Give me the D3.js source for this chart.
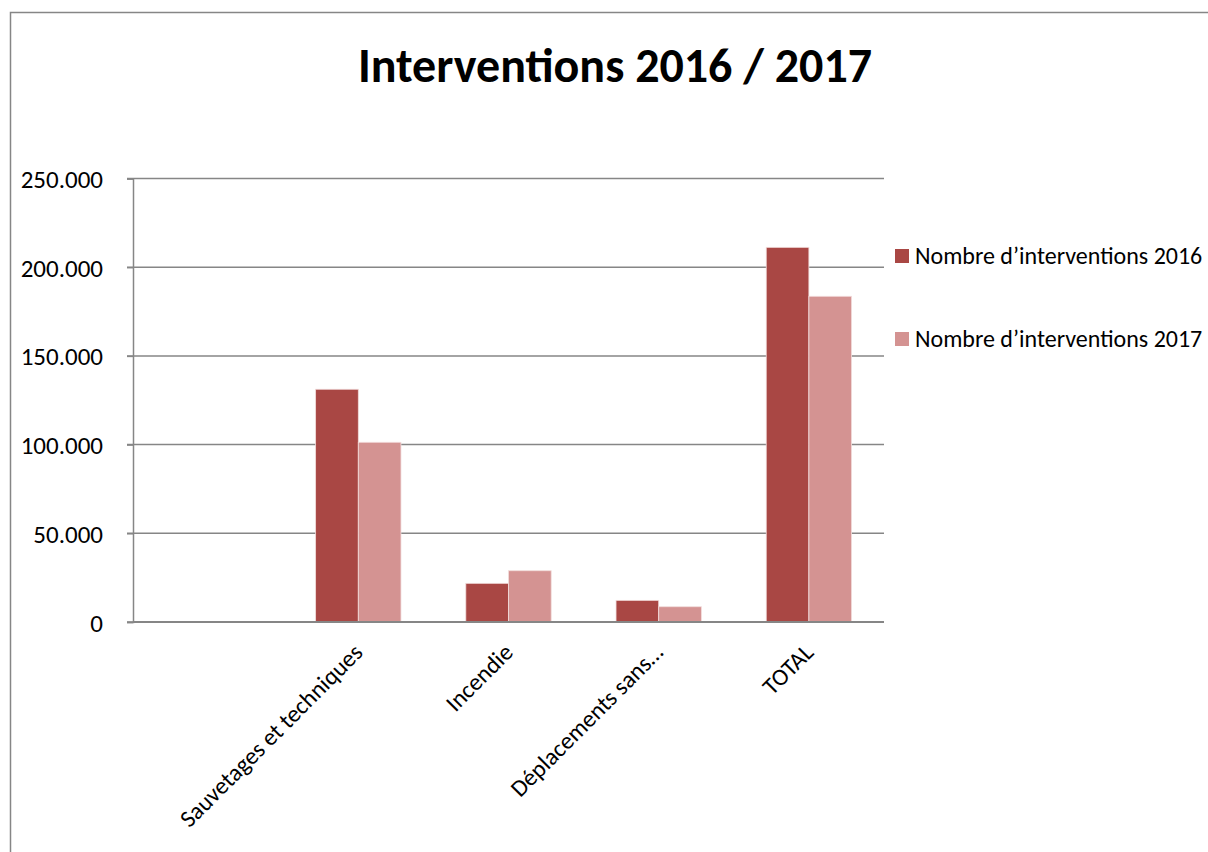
<!DOCTYPE html>
<html lang="fr">
<head>
<meta charset="UTF-8">
<title>Interventions 2016 / 2017</title>
<script src="https://cdn.jsdelivr.net/npm/d3@7"></script>
<style>
    body { margin: 0; background: #fff; }
    svg { display: block; font-family: Carlito, Calibri, Lato, sans-serif; }
</style>
</head>
<body>
<svg width="1208" height="852"></svg>
<script>
    // data
    var categories = ["", "Sauvetages et techniques", "Incendie", "Déplacements sans…", "TOTAL"];
    var series = ["Nombre d’interventions 2016", "Nombre d’interventions 2017"];
    var values2016 = [null, 131200, 21800, 12200, 211200];
    var values2017 = [null, 101300, 28900, 8600, 183600];
    var yTicks = [0, 50000, 100000, 150000, 200000, 250000];
    var colors = ["#A94744", "#D49392"];

    var plot = { left: 133, right: 884, top: 178.5, bottom: 622 };

    var svg = d3.select("svg");

    // chart frame (runs off the right and bottom edge)
    svg.append("rect")
        .attr("x", 10.5).attr("y", 12.5)
        .attr("width", 1400).attr("height", 1000)
        .attr("fill", "#fff")
        .attr("stroke", "#868686").attr("stroke-width", 1.5);

    svg.append("text")
        .attr("x", 615).attr("y", 82)
        .attr("text-anchor", "middle")
        .style("font-size", "48px").style("font-weight", "bold")
        .text("Interventions 2016 / 2017");

    var x0 = d3.scaleBand().domain(d3.range(categories.length))
        .range([plot.left, plot.right]).padding(0);
    var x1 = d3.scaleBand().domain([0, 1])
        .range([0, x0.bandwidth()]).paddingInner(0).paddingOuter(0.76);
    var y = d3.scaleLinear().domain([0, 250000]).range([plot.bottom, plot.top]);

    var loc = d3.formatLocale({ decimal: ",", thousands: ".", grouping: [3], currency: ["", "€"] });
    var fmt = loc.format(",d");

    // gridlines
    svg.append("g").selectAll("line")
        .data(yTicks)
        .enter().append("line")
        .attr("x1", plot.left - 6).attr("x2", plot.right)
        .attr("y1", function (d) { return y(d); })
        .attr("y2", function (d) { return y(d); })
        .attr("stroke", "#868686").attr("stroke-width", 1.5);

    var yAxis = svg.append("g")
        .attr("transform", "translate(" + plot.left + ",0)")
        .call(d3.axisLeft(y).tickValues(yTicks).tickFormat(fmt).tickSize(6).tickPadding(24));
    yAxis.select(".domain").attr("stroke", "#868686").attr("stroke-width", 1.5);
    yAxis.selectAll(".tick line").attr("stroke", "#868686").attr("stroke-width", 1.5);
    yAxis.selectAll(".tick text")
        .attr("fill", "#000")
        .style("font-size", "25px")
        .style("font-family", "Carlito, Calibri, Lato, sans-serif")
        .attr("dy", "0.36em");

    var rows = categories.map(function (c, i) {
        return { i: i, name: c, vals: [values2016[i], values2017[i]] };
    });

    var grp = svg.append("g").selectAll("g")
        .data(rows)
        .enter().append("g")
        .attr("transform", function (d) { return "translate(" + x0(d.i) + ",0)"; });

    grp.selectAll("rect")
        .data(function (d) {
            return d.vals.map(function (v, k) { return { k: k, v: v }; })
                .filter(function (e) { return e.v != null; });
        })
        .enter().append("rect")
        .attr("x", function (d) { return x1(d.k); })
        .attr("width", x1.bandwidth())
        .attr("y", function (d) { return y(d.v); })
        .attr("height", function (d) { return y(0) - y(d.v); })
        .attr("fill", function (d) { return colors[d.k]; })
        .attr("stroke", "#f2dcdb").attr("stroke-width", 0.8);

    // x axis line
    svg.append("line")
        .attr("x1", plot.left).attr("x2", plot.right)
        .attr("y1", plot.bottom).attr("y2", plot.bottom)
        .attr("stroke", "#868686").attr("stroke-width", 2);

    // rotated category labels
    svg.append("g").selectAll("text")
        .data(rows.filter(function (d) { return d.name !== ""; }))
        .enter().append("text")
        .attr("transform", function (d) {
            return "translate(" + (x0(d.i) + x0.bandwidth() / 2 - 6) + "," + (plot.bottom + 20) + ") rotate(-45)";
        })
        .attr("text-anchor", "end")
        .attr("dy", "0.7em")
        .style("font-size", "24px")
        .text(function (d) { return d.name; });

    // legend
    var leg = svg.append("g").selectAll("g")
        .data(series)
        .enter().append("g")
        .attr("transform", function (d, i) { return "translate(895," + (249 + i * 83) + ")"; });
    leg.append("rect")
        .attr("width", 14).attr("height", 14)
        .attr("fill", function (d, i) { return colors[i]; });
    leg.append("text")
        .attr("x", 20).attr("y", 15)
        .style("font-size", "24px")
        .text(function (d) { return d; });
</script>
</body>
</html>
